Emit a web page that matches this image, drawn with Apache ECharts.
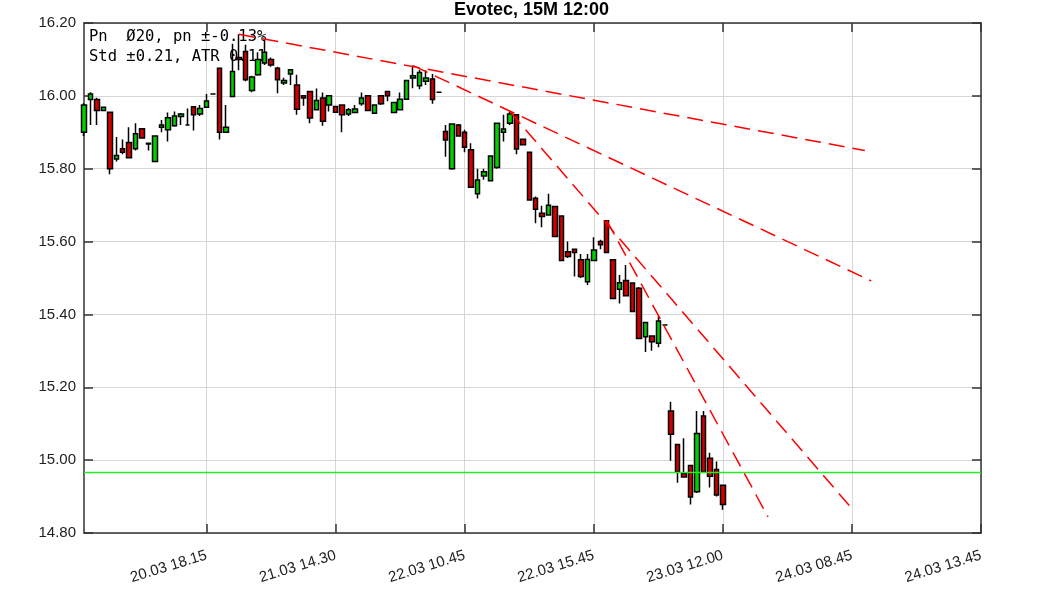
<!DOCTYPE html>
<html>
<head>
<meta charset="utf-8">
<script src="https://cdn.jsdelivr.net/npm/echarts@6/dist/echarts.min.js"></script>
<style>
html,body{margin:0;padding:0;background:#fff;}
#chart{width:1063px;height:591px;}
</style>
</head>
<body>
<div id="chart"></div>
<script>
// ---- data ----
const titleText = 'Evotec, 15M 12:00';
const infoLines = ['Pn  \u00D820, pn \u00B1-0.13%', 'Std \u00B10.21, ATR 0.11'];
const slotCount = 140;             // category slots on the x axis (candles + projection)
const labelStep = 20;
const labelOffset = 19;
const tickLabels = ['20.03 18.15', '21.03 14.30', '22.03 10.45', '22.03 15.45', '23.03 12.00', '24.03 08.45', '24.03 13.45'];
const yTicks = [14.80, 15.00, 15.20, 15.40, 15.60, 15.80, 16.00, 16.20];

const opens = [15.90,15.99,15.99,15.96,15.955,15.827,15.855,15.872,15.855,15.91,
15.87,15.82,15.914,15.907,15.918,15.943,15.92,15.97,15.95,15.969,
16.005,16.076,15.90,15.998,16.105,16.122,16.015,16.058,16.09,16.10,
16.076,16.035,16.06,16.03,16.00,16.012,15.962,15.994,15.975,15.971,
15.975,15.95,15.954,15.978,16.00,15.952,16.00,16.012,15.954,15.962,
15.991,16.049,16.028,16.04,16.046,16.01,15.902,15.80,15.92,15.90,
15.852,15.731,15.78,15.767,15.803,15.90,15.925,15.948,15.881,15.845,
15.719,15.678,15.673,15.696,15.67,15.572,15.579,15.55,15.49,15.548,
15.60,15.657,15.55,15.469,15.493,15.486,15.472,15.339,15.341,15.321,
15.371,15.135,15.043,14.963,14.985,14.913,15.121,15.005,14.974,14.931];
const closes = [15.975,16.005,15.96,15.969,15.80,15.836,15.845,15.83,15.896,15.884,
15.868,15.89,15.92,15.94,15.945,15.95,15.92,15.948,15.965,15.986,
16.005,15.90,15.914,16.067,16.10,16.044,16.052,16.10,16.12,16.085,
16.044,16.042,16.072,15.963,15.994,15.939,15.987,15.93,16.00,15.955,
15.948,15.962,15.964,15.994,15.96,15.975,15.978,16.00,15.982,15.991,
16.042,16.055,16.064,16.049,15.99,16.01,15.879,15.923,15.89,15.859,
15.749,15.769,15.792,15.835,15.925,15.909,15.95,15.854,15.866,15.714,
15.689,15.669,15.70,15.614,15.548,15.559,15.57,15.504,15.551,15.577,
15.591,15.57,15.444,15.487,15.451,15.408,15.334,15.378,15.325,15.382,
15.371,15.071,14.968,14.954,14.899,15.073,14.968,14.956,14.904,14.878];
const lows = [15.89,15.92,15.92,15.96,15.785,15.82,15.84,15.83,15.85,15.882,
15.85,15.82,15.90,15.875,15.915,15.92,15.918,15.905,15.945,15.968,
16.005,15.88,15.90,15.998,16.07,16.04,16.01,16.055,16.085,16.08,
16.007,16.03,16.03,15.948,15.973,15.925,15.96,15.918,15.957,15.953,
15.90,15.945,15.953,15.973,15.958,15.95,15.975,15.985,15.953,15.96,
15.99,16.021,16.018,16.03,15.978,16.01,15.833,15.797,15.888,15.845,
15.748,15.718,15.77,15.766,15.80,15.875,15.92,15.84,15.865,15.713,
15.65,15.639,15.672,15.613,15.547,15.555,15.504,15.50,15.481,15.547,
15.579,15.569,15.443,15.43,15.45,15.407,15.333,15.297,15.30,15.31,
15.371,14.998,14.938,14.953,14.878,14.91,14.965,14.925,14.90,14.864];
const highs = [15.98,16.01,15.995,15.97,15.955,15.887,15.88,15.914,15.925,15.912,
15.87,15.89,15.934,15.954,15.957,15.953,15.965,15.97,15.975,16.005,
16.005,16.076,15.975,16.143,16.169,16.14,16.055,16.12,16.155,16.105,
16.08,16.05,16.073,16.058,16.00,16.012,16.02,16.009,16.00,15.972,
15.976,15.967,15.975,16.009,16.00,15.976,16.002,16.013,15.983,16.009,
16.043,16.083,16.072,16.07,16.06,16.01,15.92,15.925,15.923,15.907,
15.87,15.80,15.80,15.836,15.926,15.948,15.957,15.95,15.882,15.846,
15.724,15.698,15.731,15.697,15.671,15.60,15.58,15.566,15.566,15.612,
15.605,15.658,15.55,15.508,15.536,15.487,15.475,15.379,15.342,15.396,
15.371,15.16,15.045,15.06,14.987,15.135,15.135,15.02,14.996,14.931];

// trend lines: [startIndex, startPrice, endIndex, endPrice]
const trendA = [24, 16.169, 121, 15.850];
const trendB = [51, 16.083, 122, 15.492];
const trendC = [66, 15.957, 119, 14.867];
const trendD = [81, 15.658, 106, 14.844];
const levelPrice = 14.966;

// ---- build ----
const categories = [];
for (let i = 0; i < slotCount; i++) {
  const k = (i - labelOffset) / labelStep;
  categories.push((i - labelOffset) % labelStep === 0 && k >= 0 ? tickLabels[k] : String(i));
}
const isLabelIdx = (i) => (i - labelOffset) % labelStep === 0 && i >= labelOffset;
const ohlc = opens.map((o, i) => [o, closes[i], lows[i], highs[i]]);

const axisColor = '#333333';
const gridColor = '#d6d6d6';
const lineSeries = (t) => ({
  type: 'line', data: [[t[0], t[1]], [t[2], t[3]]],
  symbol: 'none', silent: true, z: 3,
  lineStyle: {color: '#ff0000', width: 1.5, type: [16, 8]}
});

const chart = echarts.init(document.getElementById('chart'), null, {renderer: 'canvas'});
chart.setOption({
  animation: false,
  backgroundColor: '#ffffff',
  title: {
    text: titleText, left: 'center', top: 0, padding: [1, 0, 0, 0],
    textStyle: {fontFamily: 'Liberation Sans, Arial, sans-serif', fontSize: 18, fontWeight: 'bold', color: '#000'}
  },
  graphic: [{
    type: 'text', left: 89, top: 27, z: 1,
    style: {text: infoLines.join('\n'), font: '15.5px "DejaVu Sans Mono", monospace', fill: '#000', lineHeight: 20}
  }],
  grid: {left: 84, right: 82, top: 23, bottom: 58},
  xAxis: [{
    type: 'category', data: categories, boundaryGap: false, position: 'bottom',
    axisLine: {show: true, onZero: false, lineStyle: {color: axisColor, width: 1.5}},
    axisTick: {show: true, inside: true, length: 9, interval: (i) => isLabelIdx(i), lineStyle: {color: axisColor, width: 1.5}},
    axisLabel: {show: true, interval: (i) => isLabelIdx(i), rotate: 17, margin: 22, fontSize: 15,
      fontFamily: 'Liberation Sans, Arial, sans-serif', color: '#222'},
    splitLine: {show: true, interval: (i) => isLabelIdx(i), lineStyle: {color: gridColor, width: 1}}
  }, {
    type: 'category', data: categories, boundaryGap: false, position: 'top',
    axisLine: {show: true, onZero: false, lineStyle: {color: axisColor, width: 1.5}},
    axisTick: {show: true, inside: true, length: 9, interval: (i) => isLabelIdx(i), lineStyle: {color: axisColor, width: 1.5}},
    axisLabel: {show: false}, splitLine: {show: false}
  }],
  yAxis: [{
    type: 'value', min: yTicks[0], max: yTicks[yTicks.length - 1], interval: 0.2, position: 'left',
    axisLine: {show: true, onZero: false, lineStyle: {color: axisColor, width: 1.5}},
    axisTick: {show: true, inside: true, length: 9, lineStyle: {color: axisColor, width: 1.5}},
    axisLabel: {show: true, margin: 8, fontSize: 15, fontFamily: 'Liberation Sans, Arial, sans-serif', color: '#222',
      formatter: (v) => v.toFixed(2)},
    splitLine: {show: true, lineStyle: {color: gridColor, width: 1}}
  }, {
    type: 'value', min: yTicks[0], max: yTicks[yTicks.length - 1], interval: 0.2, position: 'right',
    axisLine: {show: true, onZero: false, lineStyle: {color: axisColor, width: 1.5}},
    axisTick: {show: true, inside: true, length: 9, lineStyle: {color: axisColor, width: 1.5}},
    axisLabel: {show: false}, splitLine: {show: false}
  }],
  series: [
    {
      type: 'candlestick', data: ohlc, barWidth: 5, clip: true, z: 2,
      itemStyle: {color: '#00d000', color0: '#d00000', borderColor: '#000', borderColor0: '#000', borderColorDoji: '#000', borderWidth: 1.5}
    },
    {
      type: 'line', data: [[0, levelPrice], [slotCount - 1, levelPrice]], symbol: 'none', silent: true, z: 3,
      lineStyle: {color: '#22ee22', width: 1.5}
    },
    lineSeries(trendA), lineSeries(trendB), lineSeries(trendC), lineSeries(trendD)
  ]
});
</script>
</body>
</html>
